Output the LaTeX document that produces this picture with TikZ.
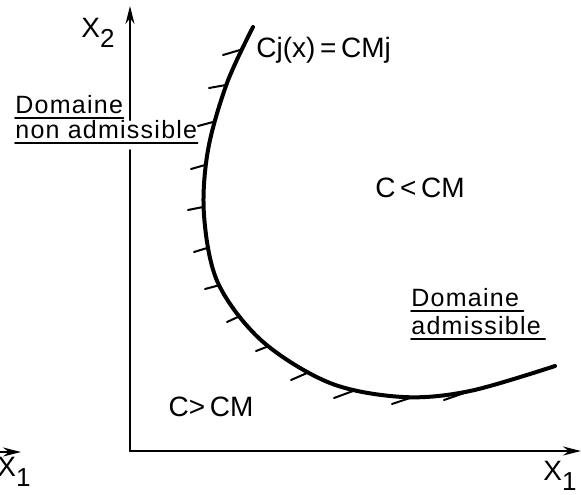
\documentclass[tikz,border=0pt]{standalone}
\usepackage{fontspec}
\setmainfont{Liberation Sans}
\usepackage{tikz}
\usetikzlibrary{positioning,arrows.meta}
\newcommand{\lowidx}[1]{\raisebox{-5pt}{\fontsize{13}{13}\selectfont #1}}

\begin{document}
\begin{tikzpicture}[x=0.5pt,y=-0.5pt,line cap=round,
  every node/.style={font=\fontsize{14}{16}\selectfont,inner sep=0pt},
  axis/.style={line width=1pt,-{Stealth[length=9pt,width=4.5pt]}},
  lbl/.style={font=\fontsize{12.5}{14}\selectfont\addfontfeature{LetterSpace=5},anchor=base west},
  uline/.style={line width=0.9pt}]
  \useasboundingbox (0,0) rectangle (581,494);
  % axes: origin at (130,451), gap in x2 axis for the label
  \coordinate (O) at (130,451);
  \coordinate (Ygapbot) at (130,150);
  \coordinate (Ygaptop) at (130,120);
  \coordinate (Ytop) at (130,6);
  \coordinate (Xend) at (581,451);
  \draw[line width=1pt] (O)--(Ygapbot);
  \draw[axis] (Ygaptop)--(Ytop);
  \draw[axis] (O)--(Xend);
  \node (xtwo) at (98,33) {X\lowidx{2}};
  \node (xone) at (560,476) {X\lowidx{1}};
  % piece of the neighbouring axis at the left edge
  \coordinate (Lstart) at (0,452);
  \coordinate (Lend) at (21,452);
  \draw[axis] (Lstart)--(Lend);
  \node (xoneleft) at (14,472) {X\lowidx{1}};
  % limit curve C_j(x) = CM_j
  \draw[line width=2pt] plot[smooth,tension=0.55] coordinates
    {(253,27)(227,83)(208,150)(204,215)(218,283)(262,341)(330,383)(403,397)
     (470,391)(555,366)};
  % hatching on the non admissible side
  \foreach \px/\py/\dx/\dy in {240/50/-17/5,226/85/-17/3,213/122/-15/4,
      205/165/-14/4,203/207/-15/3,207/248/-13/4,220/285/-15/4,240/316/-13/6,
      269/346/-13/5,307/373/-16/7,353/391/-19/7,413/397/-21/7,470/391/-26/9}
    \draw[line width=1pt] (\px,\py) -- ++(\dx,\dy);
  \node[anchor=west] (curvelbl) at (256,50) {Cj(x)\,=\,CMj};
  % region labels
  \node (cless) at (420,188) {C\,<\,CM};
  \node (cmore) at (211,407) {C>\,CM};
  \node[lbl] (dna1) at (15,113) {Domaine};
  \node[lbl] (dna2) at (15,138) {non admissible};
  \draw[uline] ([yshift=-2.5pt]dna1.base west) -- ([yshift=-2.5pt]dna1.base east);
  \draw[uline] ([yshift=-2.5pt]dna2.base west) -- ([yshift=-2.5pt]dna2.base east);
  \node[lbl] (da1) at (411,306) {Domaine};
  \node[lbl] (da2) at (411,334) {admissible};
  \draw[uline] ([yshift=-2.5pt]da1.base west) -- ([yshift=-2.5pt,xshift=2pt]da1.base east);
  \draw[uline] ([yshift=-2.5pt]da2.base west) -- ([yshift=-2.5pt,xshift=2pt]da2.base east);
\end{tikzpicture}
\end{document}
